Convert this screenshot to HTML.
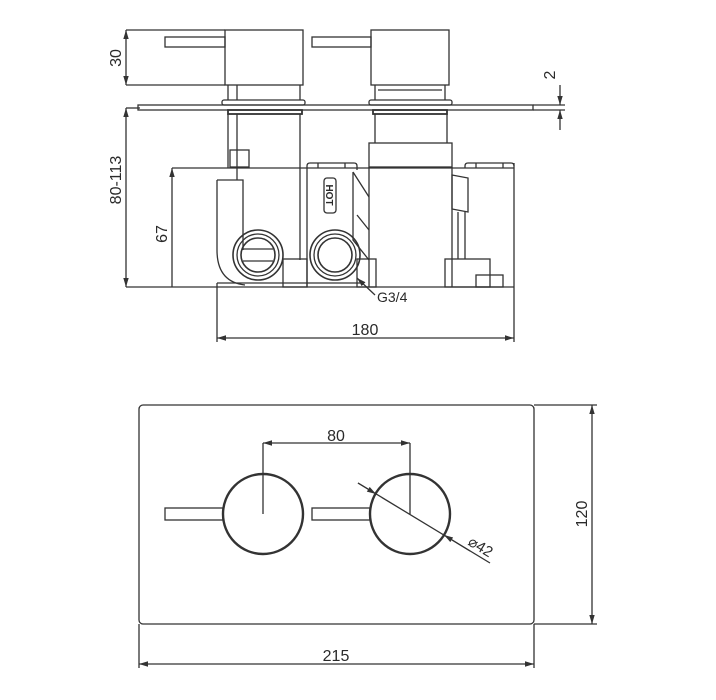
<!DOCTYPE html>
<html><head><meta charset="utf-8"><style>
html,body{margin:0;padding:0;background:#fff;}
svg{display:block;}
text{font-family:"Liberation Sans",sans-serif;fill:#2a2a2a;}
</style></head><body>
<svg width="716" height="700" viewBox="0 0 716 700" xmlns="http://www.w3.org/2000/svg">
<defs>
<marker id="a" viewBox="0 0 10 10" refX="10" refY="5" markerWidth="7" markerHeight="7" orient="auto-start-reverse"><path d="M0,2 L10,5 L0,8 z" fill="#333"/></marker>
</defs>
<g fill="none" stroke="#333" stroke-width="1.3">
<rect x="225" y="30" width="78" height="55"/>
<rect x="165" y="37" width="60" height="10"/>
<rect x="371" y="30" width="78" height="55"/>
<rect x="312" y="37" width="59" height="10"/>
<line x1="228" y1="85" x2="228" y2="100"/><line x1="237" y1="85" x2="237" y2="100"/><line x1="300" y1="85" x2="300" y2="100"/>
<line x1="375" y1="85" x2="375" y2="100"/><line x1="445" y1="85" x2="445" y2="100"/>
<line x1="378" y1="90" x2="442" y2="90"/>
<rect x="222" y="100" width="83" height="5" rx="2"/>
<rect x="369" y="100" width="83" height="5" rx="2"/>
<rect x="138" y="105" width="395" height="5"/>
<rect x="228" y="110" width="74" height="4" stroke-width="1.8"/>
<rect x="373" y="110" width="74" height="4" stroke-width="1.8"/>
<line x1="228" y1="114" x2="228" y2="168"/><line x1="237" y1="114" x2="237" y2="180"/><line x1="300" y1="114" x2="300" y2="260"/>
<rect x="230" y="150" width="19" height="17"/>
<line x1="375" y1="114" x2="375" y2="143"/><line x1="447" y1="114" x2="447" y2="143"/>
<rect x="369" y="143" width="83" height="24"/>
<line x1="369" y1="167" x2="369" y2="287"/><line x1="452" y1="167" x2="452" y2="287"/>
<line x1="172" y1="168" x2="514" y2="168"/>
<line x1="514" y1="163" x2="514" y2="287"/>
<line x1="126" y1="287" x2="514" y2="287"/>
<line x1="217" y1="283" x2="360" y2="283"/>
<path d="M307,287 V166 Q307,163 310,163 H354 Q357,163 357,166 V170"/>
<line x1="318" y1="163" x2="318" y2="168"/><line x1="345" y1="163" x2="345" y2="168"/>
<path d="M465,168 V166 Q465,163 468,163 H511 Q514,163 514,166"/>
<line x1="476" y1="163" x2="476" y2="168"/><line x1="503" y1="163" x2="503" y2="168"/>
<rect x="324" y="178" width="12" height="35" rx="3"/>
<path d="M353,172 L369,197 M353,172 V240 L369,260 M357,215 L369,230"/>
<path d="M217,180 H243 V250 M217,180 V250 Q217,282 245,285"/>
<circle cx="258" cy="255" r="25" stroke-width="1.6"/><circle cx="258" cy="255" r="21"/><circle cx="258" cy="255" r="17" stroke-width="1.6"/>
<line x1="243" y1="249" x2="273" y2="249"/><line x1="243" y1="261" x2="273" y2="261"/>
<circle cx="335" cy="255" r="25" stroke-width="1.6"/><circle cx="335" cy="255" r="21"/><circle cx="335" cy="255" r="17" stroke-width="1.6"/>
<rect x="283" y="259" width="24" height="28"/>
<rect x="357" y="259" width="19" height="28"/>
<path d="M452,175 L468,178 V212 L452,209 Z"/>
<line x1="458" y1="212" x2="458" y2="259"/><line x1="465" y1="212" x2="465" y2="259"/>
<rect x="445" y="259" width="45" height="28"/>
<rect x="476" y="275" width="27" height="12"/>
<line x1="126" y1="30" x2="225" y2="30"/><line x1="126" y1="85" x2="225" y2="85"/>
<line x1="126" y1="30" x2="126" y2="85" marker-start="url(#a)" marker-end="url(#a)"/>
<line x1="126" y1="108" x2="140" y2="108"/>
<line x1="126" y1="108" x2="126" y2="287" marker-start="url(#a)" marker-end="url(#a)"/>
<line x1="172" y1="168" x2="172" y2="287" marker-start="url(#a)"/>
<line x1="217" y1="283" x2="217" y2="342"/><line x1="514" y1="287" x2="514" y2="342"/>
<line x1="217" y1="338" x2="514" y2="338" marker-start="url(#a)" marker-end="url(#a)"/>
<line x1="533" y1="105" x2="565" y2="105"/><line x1="533" y1="110" x2="565" y2="110"/>
<line x1="560" y1="85" x2="560" y2="105" marker-end="url(#a)"/>
<line x1="560" y1="130" x2="560" y2="110" marker-end="url(#a)"/>
<line x1="375" y1="295" x2="357" y2="278" marker-end="url(#a)"/>
<rect x="139" y="405" width="395" height="219" rx="4"/>
<circle cx="263" cy="514" r="40" stroke-width="2.4"/>
<circle cx="410" cy="514" r="40" stroke-width="2.4"/>
<rect x="165" y="508" width="58" height="12"/>
<rect x="312" y="508" width="58" height="12"/>
<line x1="263" y1="443" x2="263" y2="514"/><line x1="410" y1="443" x2="410" y2="514"/>
<line x1="263" y1="443" x2="410" y2="443" marker-start="url(#a)" marker-end="url(#a)"/>
<line x1="358" y1="483" x2="490" y2="563"/>
<line x1="358" y1="483" x2="376" y2="494" marker-end="url(#a)"/>
<line x1="470" y1="551" x2="444" y2="535" marker-end="url(#a)"/>
<line x1="534" y1="405" x2="597" y2="405"/><line x1="534" y1="624" x2="597" y2="624"/>
<line x1="592" y1="405" x2="592" y2="624" marker-start="url(#a)" marker-end="url(#a)"/>
<line x1="139" y1="624" x2="139" y2="668"/><line x1="534" y1="624" x2="534" y2="668"/>
<line x1="139" y1="664" x2="534" y2="664" marker-start="url(#a)" marker-end="url(#a)"/>
</g>
<g font-size="16">
<text transform="translate(126,58) rotate(-90)" text-anchor="middle" dy="-5">30</text>
<text transform="translate(126,180) rotate(-90)" text-anchor="middle" dy="-5">80-113</text>
<text transform="translate(172,234) rotate(-90)" text-anchor="middle" dy="-5">67</text>
<text transform="translate(560,75) rotate(-90)" text-anchor="middle" dy="-5">2</text>
<text x="365" y="335" text-anchor="middle">180</text>
<text x="377" y="302" font-size="14">G3/4</text>
<text x="336" y="441" text-anchor="middle">80</text>
<text transform="translate(478,551) rotate(31)" text-anchor="middle" font-size="15">⌀42</text>
<text transform="translate(592,514) rotate(-90)" text-anchor="middle" dy="-5">120</text>
<text x="336" y="661" text-anchor="middle">215</text>
</g>
<text transform="translate(330,195) rotate(90)" text-anchor="middle" dy="4" font-size="10" font-weight="bold">HOT</text>
</svg>
</body></html>
